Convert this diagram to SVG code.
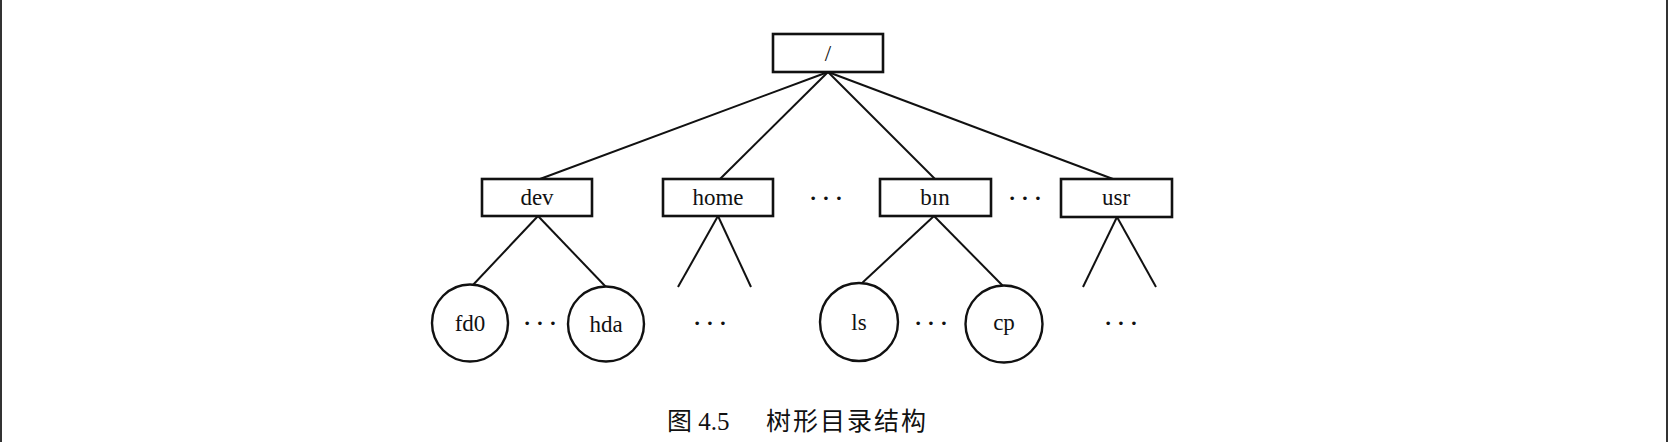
<svg xmlns="http://www.w3.org/2000/svg" width="1668" height="442" viewBox="0 0 1668 442">
<style>
.box{fill:#fff;stroke:#111;stroke-width:2.6}
.circ{fill:#fff;stroke:#111;stroke-width:2.4}
.ln{stroke:#111;stroke-width:2;fill:none}
.t{font-family:"Liberation Serif","Times New Roman",serif;font-size:23px;fill:#111;text-anchor:middle}
.d{font-family:"Liberation Serif","Times New Roman",serif;font-size:22px;fill:#111;text-anchor:middle;font-weight:bold}
.cap{font-family:"Liberation Serif","Noto Sans CJK SC",serif;font-size:25px;fill:#111}
.edge{stroke:#333;stroke-width:2}
</style>
<rect width="1668" height="442" fill="#fff"/>
<line class="edge" x1="1" y1="0" x2="1" y2="442"/>
<line class="edge" x1="1667" y1="0" x2="1667" y2="442"/>
<g id="connectors">
<line class="ln" x1="828" y1="72" x2="540" y2="179"/>
<line class="ln" x1="828" y1="72" x2="720" y2="179"/>
<line class="ln" x1="828" y1="72" x2="935" y2="179"/>
<line class="ln" x1="828" y1="72" x2="1113" y2="179"/>
<line class="ln" x1="538" y1="216" x2="472" y2="286"/>
<line class="ln" x1="538" y1="216" x2="606" y2="287"/>
<line class="ln" x1="718" y1="216" x2="678" y2="287"/>
<line class="ln" x1="718" y1="216" x2="751" y2="287"/>
<line class="ln" x1="934" y1="216" x2="861" y2="284"/>
<line class="ln" x1="934" y1="216" x2="1003" y2="286"/>
<line class="ln" x1="1117" y1="217" x2="1083" y2="287"/>
<line class="ln" x1="1117" y1="217" x2="1156" y2="287"/>
</g>
<g id="root"><rect class="box" x="773" y="34" width="110" height="38"/><text class="t" x="828" y="61">/</text></g>
<g id="dev"><rect class="box" x="482" y="179" width="110" height="37"/><text class="t" x="537" y="205">dev</text></g>
<g id="home"><rect class="box" x="663" y="179" width="110" height="37"/><text class="t" x="718" y="205">home</text></g>
<g id="bin"><rect class="box" x="880" y="179" width="111" height="37"/><text class="t" x="935" y="205">bın</text></g>
<g id="usr"><rect class="box" x="1061" y="179" width="111" height="38"/><text class="t" x="1116" y="205">usr</text></g>
<g id="fd0"><ellipse class="circ" cx="470" cy="323" rx="38" ry="38.5"/><text class="t" x="470" y="331">fd0</text></g>
<g id="hda"><ellipse class="circ" cx="606" cy="324" rx="38" ry="37.5"/><text class="t" x="606" y="332">hda</text></g>
<g id="ls"><ellipse class="circ" cx="859" cy="322" rx="39" ry="39"/><text class="t" x="859" y="330">ls</text></g>
<g id="cp"><ellipse class="circ" cx="1004" cy="324" rx="38.5" ry="38.5"/><text class="t" x="1004" y="330">cp</text></g>
<g id="dots">
<text class="d" x="826" y="205">· · ·</text>
<text class="d" x="1025" y="205">· · ·</text>
<text class="d" x="540" y="330">· · ·</text>
<text class="d" x="710" y="330">· · ·</text>
<text class="d" x="931" y="330">· · ·</text>
<text class="d" x="1121" y="330">· · ·</text>
</g>
<g id="caption"><text class="cap" x="667" y="430">图 4.5</text><text class="cap" x="766" y="430" style="font-family:'Noto Sans CJK SC',sans-serif;letter-spacing:2px">树形目录结构</text></g>
</svg>
